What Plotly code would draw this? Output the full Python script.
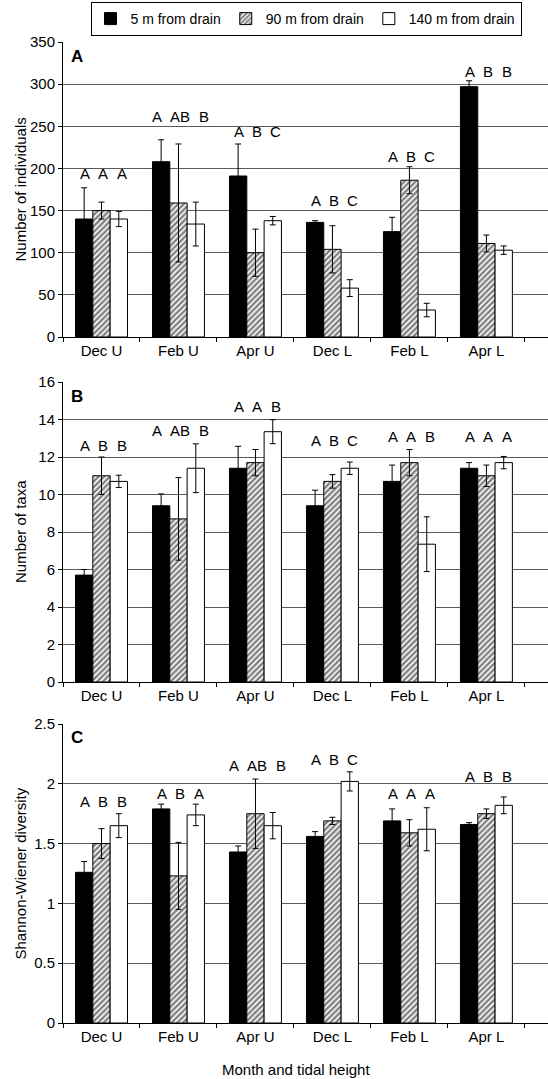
import plotly.graph_objects as go
from plotly.subplots import make_subplots

categories = ["Dec U", "Feb U", "Apr U", "Dec L", "Feb L", "Apr L"]
series_names = ["5 m from drain", "90 m from drain", "140 m from drain"]

# Panel A: number of individuals
a_5m = [140, 208, 191, 136, 125, 297]
a_5m_err = [37, 26, 38, 2, 17, 7]
a_90m = [150, 159, 100, 104, 186, 111]
a_90m_err = [10, 70, 28, 28, 16, 10]
a_140m = [140, 134, 138, 58, 32, 103]
a_140m_err = [9, 26, 5, 10, 8, 5]
a_letters = [["A", "A", "A"], ["A", "AB", "B"], ["A", "B", "C"],
             ["A", "B", "C"], ["A", "B", "C"], ["A", "B", "B"]]
a_letter_y = [194, 262, 244, 162, 214, 315]

# Panel B: number of taxa
b_5m = [5.7, 9.4, 11.4, 9.4, 10.7, 11.4]
b_5m_err = [0.3, 0.63, 1.17, 0.83, 0.87, 0.3]
b_90m = [11.0, 8.7, 11.7, 10.7, 11.7, 11.0]
b_90m_err = [1.0, 2.2, 0.7, 0.36, 0.7, 0.57]
b_140m = [10.7, 11.4, 13.35, 11.4, 7.35, 11.7]
b_140m_err = [0.33, 1.3, 0.64, 0.33, 1.46, 0.33]
b_letters = [["A", "B", "B"], ["A", "AB", "B"], ["A", "A", "B"],
             ["A", "B", "C"], ["A", "A", "B"], ["A", "A", "A"]]
b_letter_y = [12.6, 13.4, 14.7, 12.9, 13.1, 13.1]

# Panel C: Shannon-Wiener diversity
c_5m = [1.26, 1.79, 1.43, 1.56, 1.69, 1.66]
c_5m_err = [0.09, 0.04, 0.05, 0.04, 0.10, 0.015]
c_90m = [1.50, 1.23, 1.75, 1.69, 1.59, 1.75]
c_90m_err = [0.125, 0.28, 0.29, 0.03, 0.11, 0.04]
c_140m = [1.65, 1.74, 1.65, 2.02, 1.62, 1.82]
c_140m_err = [0.10, 0.09, 0.11, 0.08, 0.18, 0.07]
c_letters = [["A", "B", "B"], ["A", "B", "A"], ["A", "AB", "B"],
             ["A", "B", "C"], ["A", "A", "A"], ["A", "B", "B"]]
c_letter_y = [1.85, 1.92, 2.15, 2.20, 1.92, 2.06]

panel_labels = ["A", "B", "C"]
y_titles = ["Number of individuals", "Number of taxa", "Shannon-Wiener diversity"]
y_ranges = [[0, 350], [0, 16], [0, 2.5]]
y_dticks = [50, 2, 0.5]
x_title = "Month and tidal height"

FONT = "Liberation Sans, Arial, sans-serif"
W, H = 548, 1079
ML = 63
XR = [-0.5, 5.8]
BARGAP = 0.325
LETTER_FS = 15

# pixel layout of panels (top, bottom)
panel_px = [(42, 337), (382, 682), (724, 1023)]

fig = make_subplots(rows=3, cols=1)

styles = [
    dict(color="black", line=dict(color="black", width=1)),
    dict(color="white", line=dict(color="black", width=1),
         pattern=dict(shape="/", fgcolor="black", bgcolor="white", size=4, solidity=0.6)),
    dict(color="white", line=dict(color="black", width=1)),
]

panels = [
    ([a_5m, a_90m, a_140m], [a_5m_err, a_90m_err, a_140m_err], a_letters, a_letter_y),
    ([b_5m, b_90m, b_140m], [b_5m_err, b_90m_err, b_140m_err], b_letters, b_letter_y),
    ([c_5m, c_90m, c_140m], [c_5m_err, c_90m_err, c_140m_err], c_letters, c_letter_y),
]

plot_w = W - ML
cat_px = plot_w / (XR[1] - XR[0])
bar_px = cat_px * (1 - BARGAP) / 3


def letter_shifts(group):
    """Horizontal shifts (px) for a group of significance letters, centred on the category."""
    widths = [len(t) * 0.68 * LETTER_FS for t in group]
    gap = max(8.0, bar_px - 0.68 * LETTER_FS)
    total = sum(widths) + gap * (len(group) - 1)
    pos, x = [], -total / 2
    for w in widths:
        pos.append(x + w / 2 + 2)
        x += w + gap
    return pos


for p, (vals, errs, letters, ly) in enumerate(panels):
    row = p + 1
    for s in range(3):
        fig.add_trace(go.Bar(
            x=categories, y=vals[s], name=series_names[s],
            marker=styles[s], showlegend=(p == 0), legendgroup=series_names[s],
            error_y=dict(type="data", array=errs[s], visible=True,
                         color="black", thickness=1, width=3),
            offsetgroup=str(s),
        ), row=row, col=1)
    xref = "x" if p == 0 else f"x{row}"
    yref = "y" if p == 0 else f"y{row}"
    for i, cat in enumerate(categories):
        shifts = letter_shifts(letters[i])
        for s in range(3):
            fig.add_annotation(x=cat, y=ly[i], xref=xref, yref=yref,
                               text=letters[i][s], showarrow=False,
                               xshift=shifts[s], yanchor="middle",
                               font=dict(family=FONT, size=LETTER_FS, color="black"))
    top, bot = panel_px[p]
    dom = [1 - bot / H, 1 - top / H]
    fig.update_yaxes(domain=dom, range=y_ranges[p], dtick=y_dticks[p],
                     showgrid=True, gridcolor="#5a5a5a", gridwidth=1,
                     zeroline=False, showline=True, linecolor="black", linewidth=1,
                     ticks="outside", ticklen=4, tickcolor="black",
                     tickfont=dict(family=FONT, size=15, color="black"),
                     row=row, col=1)
    fig.update_xaxes(type="category", range=XR, tickson="boundaries",
                     ticks="outside", ticklen=4, tickcolor="black",
                     showgrid=False, showline=True, linecolor="black", linewidth=1,
                     tickfont=dict(family=FONT, size=15, color="black"),
                     row=row, col=1)
    # panel letter
    fig.add_annotation(x=0.012, y=dom[1] - 14 / H, xref="paper", yref="paper",
                       text=f"<b>{panel_labels[p]}</b>", showarrow=False,
                       xanchor="left", yanchor="middle",
                       font=dict(family=FONT, size=17, color="black"))
    # y title
    fig.add_annotation(x=(20 - ML) / plot_w, y=(dom[0] + dom[1]) / 2,
                       xref="paper", yref="paper", text=y_titles[p],
                       textangle=-90, showarrow=False, xanchor="center", yanchor="middle",
                       font=dict(family=FONT, size=15, color="black"))

# x title
fig.add_annotation(x=(296 - ML) / plot_w, y=1 - 1069 / H, xref="paper", yref="paper",
                   text=x_title, showarrow=False, xanchor="center", yanchor="middle",
                   font=dict(family=FONT, size=15, color="black"))

fig.update_layout(
    width=W, height=H,
    margin=dict(l=ML, r=0, t=0, b=0, autoexpand=False),
    barmode="group", bargap=BARGAP, bargroupgap=0,
    plot_bgcolor="white", paper_bgcolor="white",
    font=dict(family=FONT, size=15, color="black"),
    legend=dict(orientation="h", x=(306 - ML) / plot_w, xanchor="center",
                y=1 - 2 / H, yanchor="top", bgcolor="white",
                bordercolor="black", borderwidth=1,
                font=dict(family=FONT, size=14, color="black"),
                itemwidth=30, tracegroupgap=0),
)

fig.write_html("out.html",
               config={"displayModeBar": False},
               post_script="document.body.style.margin='0';document.body.style.overflow='hidden';")
